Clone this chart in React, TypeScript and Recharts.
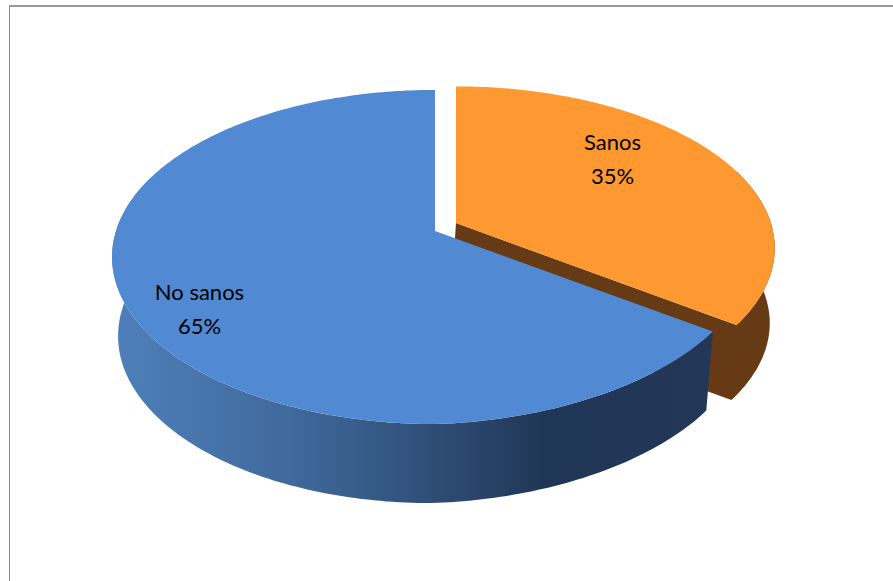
import { PieChart, Pie, Cell } from "recharts";

const NAMES = ["Sanos", "No sanos"];
const VALUES = [35, 65];
const COLORS = ["#FE9830", "#5189D2"];

const chartData = NAMES.map((name, i) => ({ name, value: VALUES[i] }));

// how far the disc appears to shrink towards the back
const PERSPECTIVE = 0.1557;
const TILT = 0.511;
// side walls only show on the front of the disc
const WALL_FROM = 20;
const WALL_TO = -200;

// top and bottom discs of each slice, relative to the pie centre
const DISCS: Record<string, any> = {
  Sanos: {
    top: { dx: 21, dy: -8, sx: 0.987, sy: 0.968, rightSx: 1, lean: 0 },
    bottom: { dx: 16, dy: 67, sx: 0.987, sy: 0.968, rightSx: 1, lean: 0 },
  },
  "No sanos": {
    top: { dx: 0, dy: 0, sx: 1, sy: 1, rightSx: 0.978, lean: 0.03 },
    bottom: { dx: -4, dy: 79, sx: 0.969, sy: 1, rightSx: 1, lean: 0.03 },
  },
};

const LABEL_SPOTS: Record<string, { dx: number; dy: number }> = {
  Sanos: { dx: 177.5, dy: -81 },
  "No sanos": { dx: -235.5, dy: 69 },
};

function project(cx: number, cy: number, r: number, disc: any, deg: number) {
  const a = (deg * Math.PI) / 180;
  const d = 1 + PERSPECTIVE * Math.sin(a);
  let u = (r * disc.sx * Math.cos(a)) / d;
  if (u > 0) u *= disc.rightSx;
  // the front right of the disc sits a little higher than the front left
  const lift = u > 0 ? disc.lean * u * Math.max(0, -Math.sin(a)) : 0;
  return [cx + disc.dx + u, cy + disc.dy - (r * TILT * disc.sy * Math.sin(a)) / d - lift];
}

function arcPoints(cx: number, cy: number, r: number, disc: any, from: number, to: number) {
  const steps = Math.ceil(Math.abs(to - from));
  const pts = [];
  for (let i = 0; i <= steps; i++) {
    pts.push(project(cx, cy, r, disc, from + ((to - from) * i) / steps));
  }
  return pts;
}

const toPath = (pts: number[][]) =>
  "M" + pts.map((p) => `${p[0].toFixed(1)},${p[1].toFixed(1)}`).join("L") + "Z";

// Sector drawn as a tilted slab: side wall, cut wall, then the top face
function SlabSector(props: any) {
  const { cx, cy, outerRadius, startAngle, endAngle, name, fill } = props;
  const isBlue = name === "No sanos";
  const { top, bottom } = DISCS[name];
  const wallStart = Math.min(startAngle, WALL_FROM);
  const wallEnd = Math.max(endAngle, WALL_TO);
  const topArc = arcPoints(cx, cy, outerRadius, top, startAngle, endAngle);
  const wallTop = arcPoints(cx, cy, outerRadius, top, wallStart, wallEnd);
  const wallBottom = arcPoints(cx, cy, outerRadius, bottom, wallStart, wallEnd);
  const wall = toPath([...wallTop, ...[...wallBottom].reverse()]);
  const apexTop = [cx + top.dx, cy + top.dy];
  const apexBottom = [cx + bottom.dx, cy + bottom.dy];
  const cut = toPath([apexTop, wallTop[wallTop.length - 1], wallBottom[wallBottom.length - 1], apexBottom]);
  return (
    <g>
      <defs>
        <linearGradient id="blueWall" x1="0" y1="0" x2="1" y2="0">
          <stop offset="0" stopColor="#4E80BA" />
          <stop offset="0.3" stopColor="#40699C" />
          <stop offset="0.5" stopColor="#31527C" />
          <stop offset="0.72" stopColor="#203656" />
          <stop offset="1" stopColor="#233757" />
        </linearGradient>
      </defs>
      {isBlue ? <path d={wall} fill="url(#blueWall)" /> : <path d={wall + cut} fill="#653A14" />}
      <path d={toPath([apexTop, ...topArc])} fill={fill} />
    </g>
  );
}

function renderLabel(props: any) {
  const { cx, cy, name, percent } = props;
  const spot = LABEL_SPOTS[name];
  const x = cx + spot.dx;
  const y = cy + spot.dy;
  return (
    <text x={x} y={y} textAnchor="middle" fontFamily="Lato" fontSize={22} fill="#000">
      <tspan x={x}>{name}</tspan>
      <tspan x={x} dy={34}>{`${Math.round(percent * 100)}%`}</tspan>
    </text>
  );
}

export default function App() {
  return (
    <div style={{ position: "absolute", left: 0, top: 0, width: 893, height: 581, background: "#fff" }}>
      <div
        style={{
          position: "absolute",
          left: 9,
          top: 5,
          right: 0,
          bottom: 0,
          borderTop: "2px solid #999",
          borderLeft: "1px solid #888",
        }}
      />
      <div style={{ position: "absolute", left: 0, top: 0 }}>
        <PieChart width={893} height={581} margin={{ top: 0, right: 0, bottom: 0, left: 0 }}>
          <Pie
            data={chartData}
            dataKey="value"
            nameKey="name"
            cx={435}
            cy={231}
            innerRadius={0}
            outerRadius={319}
            startAngle={90}
            endAngle={-270}
            stroke="none"
            shape={SlabSector}
            label={renderLabel}
            labelLine={false}
            isAnimationActive={false}
          >
            {chartData.map((_, i) => (
              <Cell key={i} fill={COLORS[i]} />
            ))}
          </Pie>
        </PieChart>
      </div>
    </div>
  );
}
